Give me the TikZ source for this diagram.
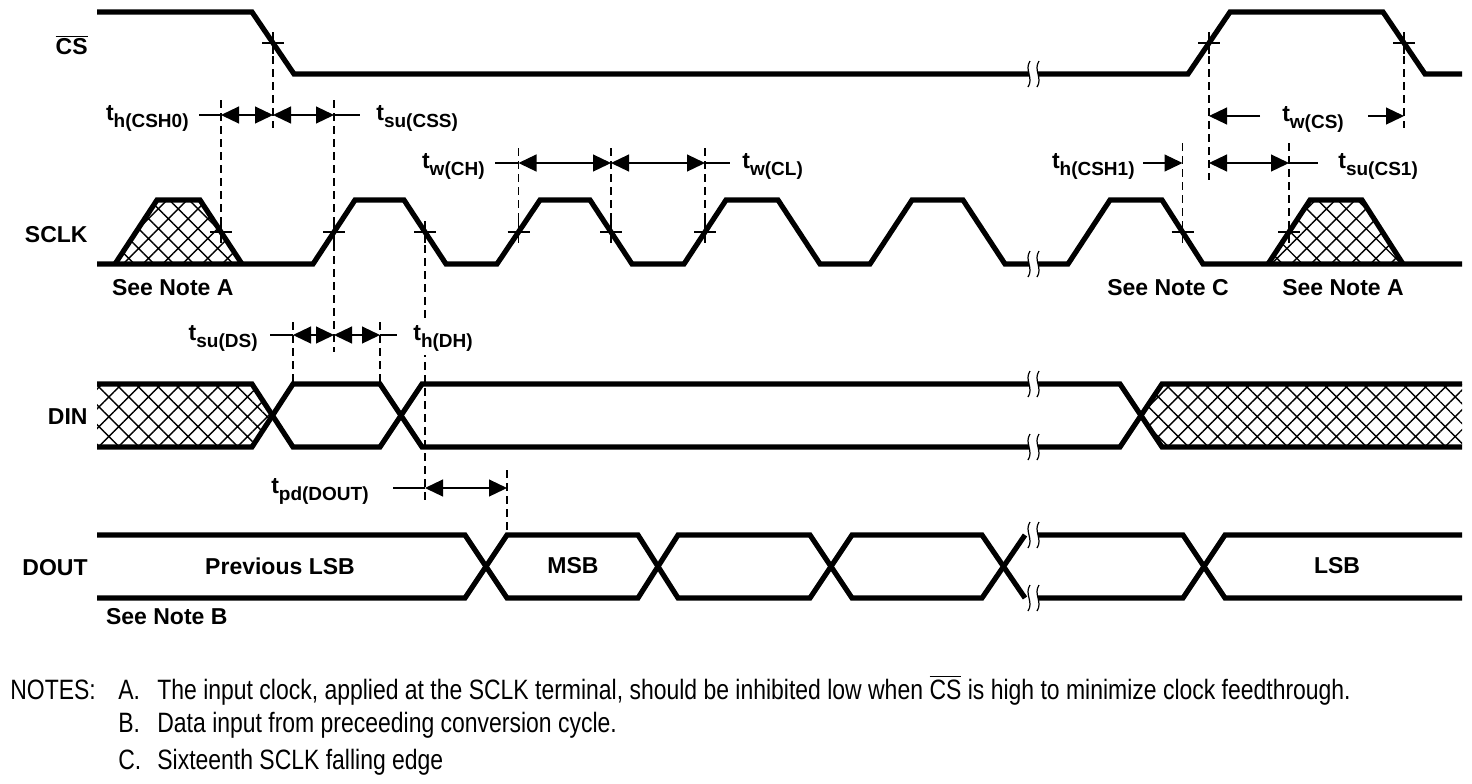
\documentclass[tikz,border=0pt]{standalone}
\usepackage{fontspec}
\setsansfont{Liberation Sans}
\newfontfamily\notefont[FakeStretch=0.82]{Liberation Sans}
\usetikzlibrary{positioning, arrows.meta, patterns.meta}

\newcommand{\tparam}[1]{t\raisebox{-3.5pt}{\fontsize{9.5}{10}\selectfont #1}}

\begin{document}
\begin{tikzpicture}[x=0.5pt, y=-0.5pt,
font=\sffamily\bfseries\fontsize{11.5}{13}\selectfont,
sigline/.style={line width=2.6pt},
thinline/.style={line width=0.6pt},
guide/.style={thinline, dash pattern=on 4pt off 2.5pt},
dimarrow/.style={thinline, {Triangle[length=9pt,width=8.5pt]}-{Triangle[length=9pt,width=8.5pt]}},
toarrow/.style={thinline, -{Triangle[length=9pt,width=8.5pt]}},
hatched/.style={pattern={Hatch[angle=45,distance=7pt,line width=0.7pt]}},
tlabel/.style={inner sep=0pt},
signame/.style={anchor=east, inner sep=0pt},
notes/.style={font=\notefont\mdseries\fontsize{14}{16}\selectfont, anchor=base west, inner sep=0pt},
xhair/.pic={\draw[thinline] (-11,0) -- (11,0) (0,-11) -- (0,11);},
brk/.pic={\draw[thinline] (-3,-13) .. controls (-9,-4) and (1,4) .. (-5,13)
  (6,-13) .. controls (0,-4) and (10,4) .. (4,13);},
>=latex
]
\useasboundingbox (0,0) rectangle (1472,783);

% signal names
\node[signame] (ncs) at (88,45) {$\overline{\mbox{CS}}$};
\node[signame] (nsclk) at (88,235) {SCLK};
\node[signame] (ndin) at (88,417) {DIN};
\node[signame] (ndout) at (88,568) {DOUT};

% crossing points
\coordinate (csF) at (273,43);
\coordinate (csR) at (1209,43);
\coordinate (csF2) at (1404,43);
\coordinate (ckA) at (221,232);
\coordinate (ck1r) at (334,232);
\coordinate (ck1f) at (425,232);
\coordinate (ck2r) at (518.5,232);
\coordinate (ck2f) at (611,232);
\coordinate (ck3r) at (705,232);
\coordinate (ck16) at (1182.5,232);
\coordinate (ckB) at (1289,232);
\coordinate (dinA) at (293,384);
\coordinate (dinB) at (380,384);
\coordinate (msb) at (507,535);

% hatched regions
\fill[hatched] (115,264) -- (157,200) -- (200,200) -- (242,264) -- cycle;
\fill[hatched] (1268,264) -- (1310,200) -- (1362,200) -- (1403,264) -- cycle;
\fill[hatched] (97,384) -- (252,384) -- (272.5,415.5) -- (252,447) -- (97,447) -- cycle;
\fill[hatched] (1141,415.5) -- (1162,384) -- (1462,384) -- (1462,447) -- (1162,447) -- cycle;

% CS
\draw[sigline] (97,12) -- (252,12) -- (294,74) -- (1029,74);
\draw[sigline] (1038,74) -- (1188,74) -- (1230,12) -- (1383,12) -- (1425,74) -- (1462,74);

% SCLK
\draw[sigline] (115,264) -- (157,200) -- (200,200) -- (242,264);
\draw[sigline] (97,264) -- (313,264) -- (355,200) -- (404,200) -- (446,264)
  -- (497,264) -- (540,200) -- (590,200) -- (632,264) -- (684,264) -- (726,200)
  -- (778,200) -- (820,264) -- (870,264) -- (912,200) -- (963,200) -- (1005,264)
  -- (1029,264);
\draw[sigline] (1038,264) -- (1068,264) -- (1110,200) -- (1162,200) -- (1203,264) -- (1462,264);
\draw[sigline] (1268,264) -- (1310,200) -- (1362,200) -- (1403,264);

% DIN
\draw[sigline] (97,384) -- (252,384) -- (293,447) -- (380,447) -- (422,384) -- (1029,384);
\draw[sigline] (97,447) -- (252,447) -- (293,384) -- (380,384) -- (422,447) -- (1029,447);
\draw[sigline] (1038,384) -- (1120,384) -- (1162,447) -- (1462,447);
\draw[sigline] (1038,447) -- (1120,447) -- (1162,384) -- (1462,384);

% DOUT
\draw[sigline] (97,535) -- (465,535) -- (507,598) -- (638,598) -- (678,535)
  -- (810,535) -- (852,598) -- (982,598) -- (1025,535);
\draw[sigline] (97,598) -- (465,598) -- (507,535) -- (638,535) -- (678,598)
  -- (810,598) -- (852,535) -- (982,535) -- (1025,598);
\draw[sigline] (1038,535) -- (1183,535) -- (1225,598) -- (1462,598);
\draw[sigline] (1038,598) -- (1183,598) -- (1225,535) -- (1462,535);

% breaks
\foreach \y in {74,264,384,447,535,598}
  \pic at (1033,\y) {brk};

% reference marks
\foreach \p in {csF,csR,csF2,ckA,ck1r,ck1f,ck2r,ck2f,ck3r,ck16,ckB}
  \pic at (\p) {xhair};

% guide lines
\draw[guide] (csF) -- (csF |- 0,128);
\draw[guide] (ckA |- 0,100) -- (ckA);
\draw[guide] (ck1r |- 0,100) -- (ck1r |- 0,352);
\draw[guide] (ck1f) -- (ck1f |- 0,500);
\draw[guide] (ck2r |- 0,148) -- (ck2r);
\draw[guide] (ck2f |- 0,148) -- (ck2f);
\draw[guide] (ck3r |- 0,148) -- (ck3r);
\draw[guide] (ck16 |- 0,143) -- (ck16);
\draw[guide] (csR) -- (csR |- 0,180);
\draw[guide] (ckB |- 0,143) -- (ckB);
\draw[guide] (csF2) -- (csF2 |- 0,128);
\draw[guide] (dinA |- 0,322) -- (dinA);
\draw[guide] (dinB |- 0,322) -- (dinB);
\draw[guide] (msb |- 0,470) -- (msb);

% th(CSH0), tsu(CSS)
\draw[thinline] (199,115) coordinate (hcsh0) -- (ckA |- 0,115);
\draw[dimarrow] (ckA |- 0,115) -- (csF |- 0,115);
\draw[dimarrow] (csF |- 0,115) -- (ck1r |- 0,115);
\draw[thinline] (ck1r |- 0,115) -- (360,115) coordinate (hcss);
\node[tlabel, left=5pt of hcsh0, yshift=-1.5pt] (lcsh0) {\tparam{h(CSH0)}};
\node[tlabel, right=8pt of hcss, yshift=-1.5pt] (lcss) {\tparam{su(CSS)}};

% tw(CH), tw(CL)
\draw[thinline] (495,163) coordinate (hch) -- (ck2r |- 0,163);
\draw[dimarrow] (ck2r |- 0,163) -- (ck2f |- 0,163);
\draw[dimarrow] (ck2f |- 0,163) -- (ck3r |- 0,163);
\draw[thinline] (ck3r |- 0,163) -- (730,163) coordinate (hcl);
\node[tlabel, left=5pt of hch, yshift=-1.5pt] (lch) {\tparam{w(CH)}};
\node[tlabel, right=6pt of hcl, yshift=-1.5pt] (lcl) {\tparam{w(CL)}};

% th(CSH1), tsu(CS1), tw(CS)
\draw[toarrow] (1143,163) coordinate (hcsh1) -- (ck16 |- 0,163);
\draw[dimarrow] (csR |- 0,163) -- (ckB |- 0,163);
\draw[thinline] (ckB |- 0,163) -- (1318,163) coordinate (hcs1);
\node[tlabel, left=4pt of hcsh1, yshift=-1.5pt] (lcsh1) {\tparam{h(CSH1)}};
\node[tlabel, right=10pt of hcs1, yshift=-1.5pt] (lcs1) {\tparam{su(CS1)}};
\node[tlabel, yshift=-1.5pt] (lwcs) at (1313,116) {\tparam{w(CS)}};
\draw[toarrow] (1260,116) -- (csR |- 0,116);
\draw[toarrow] (1368,116) -- (csF2 |- 0,116);

% tsu(DS), th(DH)
\draw[thinline] (270,335) coordinate (hds) -- (dinA |- 0,335);
\draw[dimarrow] (dinA |- 0,335) -- (ck1r |- 0,335);
\draw[dimarrow] (ck1r |- 0,335) -- (dinB |- 0,335);
\draw[thinline] (dinB |- 0,335) -- (397,335) coordinate (hdh);
\node[tlabel, left=6pt of hds, yshift=-1.5pt] (lds) {\tparam{su(DS)}};
\node[tlabel, right=6pt of hdh, yshift=-1.5pt, fill=white, inner sep=2pt] (ldh) {\tparam{h(DH)}};

% tpd(DOUT)
\draw[thinline] (393,488) coordinate (hpd) -- (ck1f |- 0,488);
\draw[dimarrow] (ck1f |- 0,488) -- (msb |- 0,488);
\node[tlabel, left=12pt of hpd, yshift=-1.5pt] (lpd) {\tparam{pd(DOUT)}};

% data and notes labels
\node (prev) at (280,566) {Previous LSB};
\node (nmsb) at (573,566) {MSB};
\node (nlsb) at (1337,566) {LSB};
\node[anchor=west] (seeA1) at (105,288) {See Note A};
\node (seeC) at (1168,288) {See Note C};
\node (seeA2) at (1343,288) {See Note A};
\node[anchor=west] (seeB) at (99,617) {See Note B};

\node[notes] (notehd) at (10,699) {NOTES:};
\node[notes] (ka) at (118,699) {A.};
\node[notes] (ta) at (157,699) {The input clock, applied at the SCLK terminal, should be inhibited low when $\overline{\mbox{CS}}$ is high to minimize clock feedthrough.};
\node[notes] (kb) at (118,732) {B.};
\node[notes] (tb) at (157,732) {Data input from preceeding conversion cycle.};
\node[notes] (kc) at (118,769) {C.};
\node[notes] (tc) at (157,769) {Sixteenth SCLK falling edge};
\end{tikzpicture}
\end{document}
